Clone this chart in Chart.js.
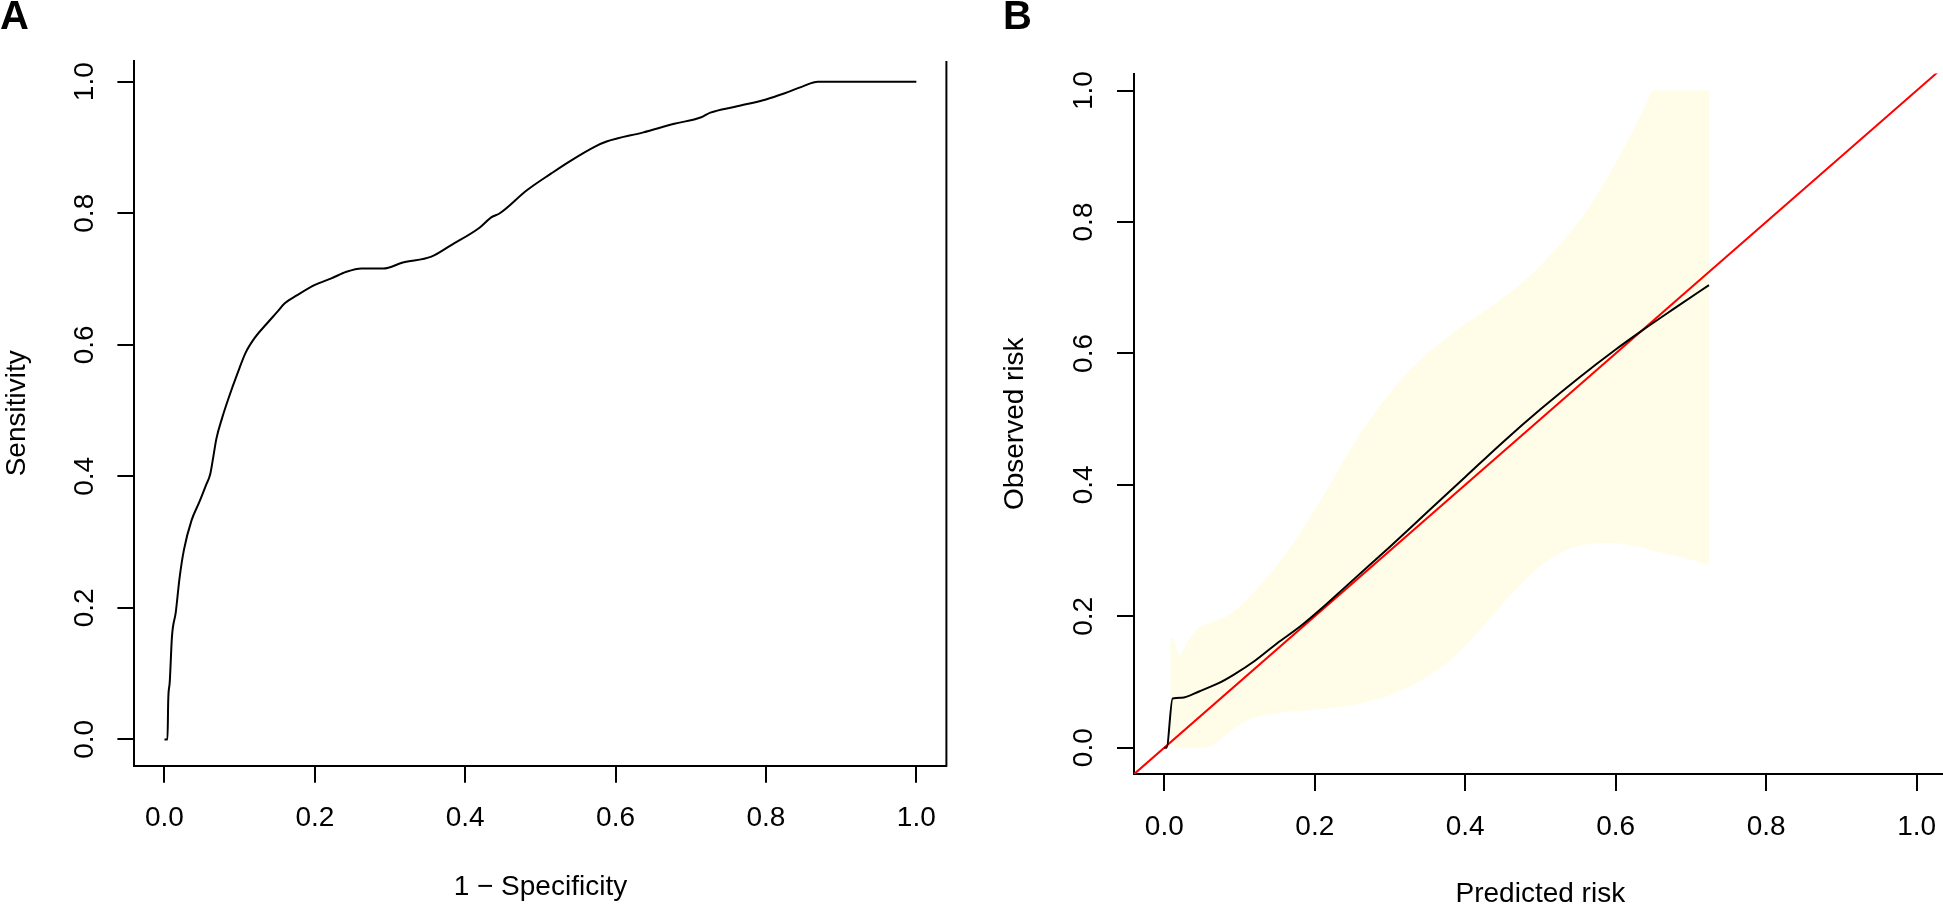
<!DOCTYPE html>
<html>
<head>
<meta charset="utf-8">
<script src="https://cdn.jsdelivr.net/npm/chart.js@4.4.1/dist/chart.umd.min.js"></script>
<style>
  html, body { margin: 0; padding: 0; background: #fff; overflow: hidden; width: 1943px; height: 906px; }
  canvas { position: absolute; top: 0; }
  #rocChart { left: 0; }
  #calChart { left: 975px; }
  .tag { position: absolute; top: -5px; z-index: 2; font: bold 40px/40px "Liberation Sans", Arial, sans-serif; color: #000; }
</style>
</head>
<body>
<canvas id="rocChart" width="975" height="906"></canvas>
<canvas id="calChart" width="1000" height="920"></canvas>
<div class="tag" style="left:0">A</div>
<div class="tag" style="left:1003px">B</div>
<script>
// panel A: ROC curve
const fpr = [0, 0.004, 0.005, 0.007, 0.010, 0.015, 0.020, 0.026, 0.036, 0.046, 0.055, 0.061, 0.065, 0.069, 0.077,
  0.085, 0.097, 0.108, 0.121, 0.136, 0.15, 0.16, 0.176, 0.2, 0.222, 0.242, 0.262, 0.291, 0.317, 0.355, 0.382,
  0.419, 0.435, 0.446, 0.482, 0.515, 0.539, 0.572, 0.588, 0.637, 0.678, 0.714, 0.726, 0.759, 0.8, 0.824, 0.849, 0.869, 1.0];
const tpr = [0, 0, 0.06, 0.087, 0.157, 0.193, 0.245, 0.289, 0.333, 0.36, 0.386, 0.404, 0.43, 0.457, 0.49,
  0.518, 0.556, 0.588, 0.612, 0.632, 0.65, 0.663, 0.675, 0.691, 0.701, 0.711, 0.716, 0.716, 0.725, 0.734, 0.752,
  0.778, 0.794, 0.8, 0.835, 0.861, 0.879, 0.901, 0.909, 0.923, 0.936, 0.946, 0.953, 0.962, 0.973, 0.982, 0.993, 1.0, 1.0];

// panel B: calibration curve with its band
const predRisk = [0.0, 0.003, 0.011, 0.023, 0.047, 0.07, 0.092, 0.12, 0.15, 0.18, 0.21, 0.24, 0.27, 0.30,
  0.35, 0.40, 0.45, 0.50, 0.55, 0.60, 0.634, 0.68, 0.724];
const obsRisk = [0.0, 0.0, 0.075, 0.076, 0.086, 0.097, 0.111, 0.132, 0.159, 0.184, 0.213, 0.244, 0.275, 0.306,
  0.359, 0.412, 0.465, 0.515, 0.562, 0.606, 0.634, 0.670, 0.704];
const bandX = [0.008, 0.011, 0.02, 0.03, 0.043, 0.06, 0.08, 0.1, 0.12, 0.14, 0.16, 0.18, 0.2, 0.22, 0.24, 0.26,
  0.28, 0.3, 0.32, 0.34, 0.36, 0.38, 0.4, 0.42, 0.44, 0.46, 0.48, 0.5, 0.52, 0.54, 0.56, 0.58, 0.6, 0.62, 0.64,
  0.65, 0.66, 0.68, 0.7, 0.724];
const bandUpper = [0.165, 0.168, 0.14, 0.16, 0.18, 0.19, 0.198, 0.215, 0.238, 0.264, 0.293, 0.326, 0.362, 0.40,
  0.44, 0.477, 0.51, 0.54, 0.567, 0.59, 0.61, 0.628, 0.645, 0.66, 0.676, 0.693, 0.712, 0.734, 0.758, 0.785,
  0.815, 0.85, 0.89, 0.932, 0.978, 1.0, 1.0, 1.0, 1.0, 1.0];
const bandLower = [0.0, 0.0, 0.0, 0.0, 0.0, 0.002, 0.018, 0.035, 0.046, 0.051, 0.054, 0.056, 0.058, 0.06, 0.063,
  0.067, 0.073, 0.08, 0.09, 0.102, 0.116, 0.133, 0.155, 0.18, 0.206, 0.232, 0.256, 0.276, 0.292, 0.303, 0.309, 0.311,
  0.311, 0.308, 0.303, 0.3, 0.297, 0.292, 0.286, 0.278];
const refLine = [-0.04, 1.1];

const tickVals = [0, 0.2, 0.4, 0.6, 0.8, 1.0];

const FONT = "'Liberation Sans', Arial, Helvetica, sans-serif";

function pts(xs, ys) {
  return xs.map((x, i) => ({ x: x, y: ys[i] }));
}

function xScale(min, max, title, titlePad, height) {
  return {
    type: 'linear', position: 'bottom', min: min, max: max,
    afterBuildTicks: s => { s.ticks = tickVals.map(v => ({ value: v })); },
    afterFit: s => { s.height = height; },
    border: { display: true, color: '#000', width: 2 },
    grid: { display: true, drawOnChartArea: false, drawTicks: true, tickLength: 17, color: '#000', lineWidth: 2 },
    ticks: { color: '#000', font: { family: FONT, size: 28 }, padding: 19, maxRotation: 0, autoSkip: false,
      callback: v => v.toFixed(1) },
    title: { display: true, text: title, color: '#000', font: { family: FONT, size: 28 }, padding: titlePad }
  };
}

function yScale(min, max, title, titlePad, width) {
  return {
    type: 'linear', position: 'left', min: min, max: max,
    afterBuildTicks: s => { s.ticks = tickVals.map(v => ({ value: v })); },
    afterFit: s => { s.width = width; },
    border: { display: true, color: '#000', width: 2 },
    grid: { display: true, drawOnChartArea: false, drawTicks: true, tickLength: 17, color: '#000', lineWidth: 2 },
    ticks: { color: '#000', font: { family: FONT, size: 28 }, padding: 13, minRotation: 90, maxRotation: 90,
      crossAlign: 'center', autoSkip: false, callback: v => v.toFixed(1) },
    title: { display: true, text: title, color: '#000', font: { family: FONT, size: 28 }, padding: titlePad }
  };
}

const baseOpts = {
  responsive: false,
  animation: false,
  devicePixelRatio: 1,
  events: [],
  plugins: { legend: { display: false }, tooltip: { enabled: false } }
};

// right side of the box in panel A
const rightEdge = {
  id: 'rightEdge',
  afterDraw(chart) {
    const { ctx, chartArea: a } = chart;
    ctx.save();
    ctx.strokeStyle = '#000';
    ctx.lineWidth = 2;
    ctx.beginPath();
    ctx.moveTo(a.right, a.top);
    ctx.lineTo(a.right, a.bottom + 1);
    ctx.stroke();
    ctx.restore();
  }
};

new Chart(document.getElementById('rocChart'), {
  type: 'scatter',
  data: {
    datasets: [{
      data: pts(fpr, tpr),
      showLine: true, borderColor: '#000', borderWidth: 2, pointRadius: 0, cubicInterpolationMode: 'monotone'
    }]
  },
  options: Object.assign({}, baseOpts, {
    layout: { padding: { left: 0, top: 61, right: 28.6, bottom: 0 } },
    scales: {
      x: xScale(-0.04, 1.04, '1 \u2212 Specificity', { top: 0, bottom: 2 }, 140.3),
      y: yScale(-0.04, 1.0315, 'Sensitivity', { top: 0, bottom: 0 }, 134.4)
    }
  }),
  plugins: [rightEdge]
});

new Chart(document.getElementById('calChart'), {
  type: 'scatter',
  data: {
    datasets: [
      {
        data: pts(predRisk, obsRisk), order: 0,
        showLine: true, borderColor: '#000', borderWidth: 2, pointRadius: 0, cubicInterpolationMode: 'monotone'
      },
      {
        data: pts(refLine, refLine), order: 1,
        showLine: true, borderColor: '#ff0000', borderWidth: 2, pointRadius: 0, tension: 0
      },
      {
        data: pts(bandX, bandUpper), order: 3,
        showLine: true, borderWidth: 0, borderColor: 'rgba(0,0,0,0)', pointRadius: 0, cubicInterpolationMode: 'monotone',
        fill: '+1', backgroundColor: '#fffde8'
      },
      {
        data: pts(bandX, bandLower), order: 2,
        showLine: true, borderWidth: 0, borderColor: 'rgba(0,0,0,0)', pointRadius: 0, cubicInterpolationMode: 'monotone'
      }
    ]
  },
  options: Object.assign({}, baseOpts, {
    layout: { padding: { left: 0, top: 73.5, right: 28.3, bottom: 0 } },
    scales: {
      x: xScale(-0.0403, 1.04, 'Predicted risk', { top: 0, bottom: 9 }, 146),
      y: yScale(-0.04, 1.026, 'Observed risk', { top: 23.6, bottom: 0 }, 159)
    }
  })
});
</script>
</body>
</html>
